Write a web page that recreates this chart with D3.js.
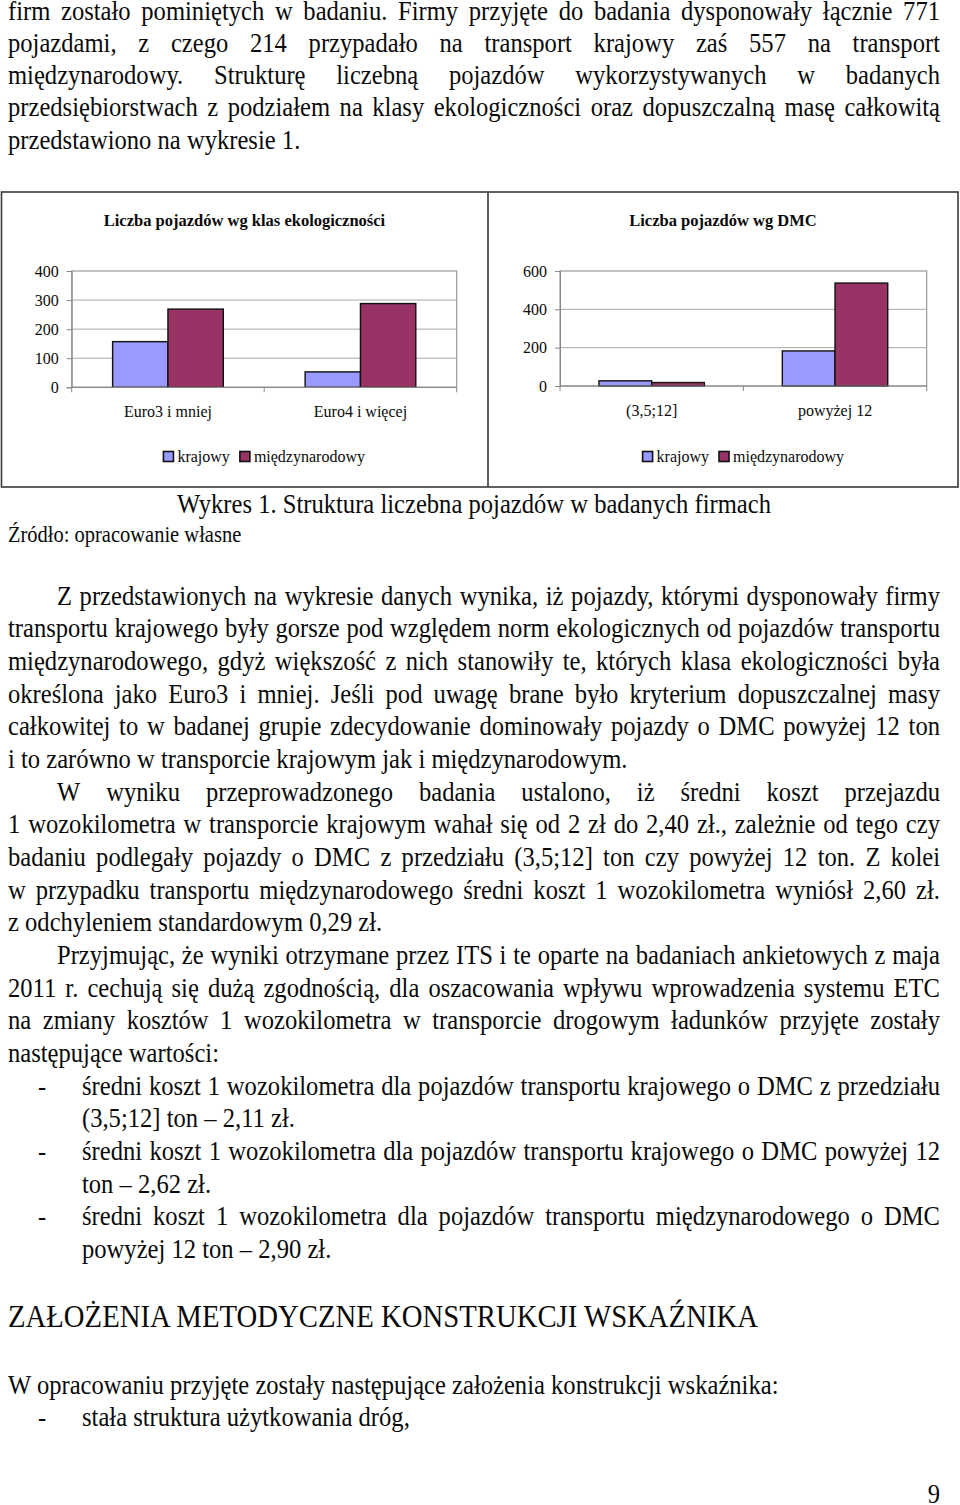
<!DOCTYPE html>
<html><head><meta charset="utf-8">
<script src="https://cdn.jsdelivr.net/npm/d3@7"></script>
<style>
html,body{margin:0;padding:0;background:#fff;}
svg{display:block;}
</style></head><body>
<svg id="page" width="960" height="1505"></svg>
<script>
// ---- chart data ----
const seriesNames = ["krajowy", "międzynarodowy"];
const seriesColors = ["#9999ff", "#993366"];
const ecoTitle = "Liczba pojazdów wg klas ekologiczności";
const ecoCategories = ["Euro3 i mniej", "Euro4 i więcej"];
const ecoKrajowy = [157, 53];
const ecoMiedzynarodowy = [269, 288];
const ecoTicks = [0, 100, 200, 300, 400];
const dmcTitle = "Liczba pojazdów wg DMC";
const dmcCategories = ["(3,5;12]", "powyżej 12"];
const dmcKrajowy = [27, 183];
const dmcMiedzynarodowy = [18, 537];
const dmcTicks = [0, 200, 400, 600];

// ---- page text ----
const para1 = [
  ["firm zostało pominiętych w badaniu. Firmy przyjęte do badania dysponowały łącznie 771", true],
  ["pojazdami, z czego 214 przypadało na transport krajowy zaś 557 na transport", true],
  ["międzynarodowy. Strukturę liczebną pojazdów wykorzystywanych w badanych", true],
  ["przedsiębiorstwach z podziałem na klasy ekologiczności oraz dopuszczalną masę całkowitą", true],
  ["przedstawiono na wykresie 1.", false]
];
const captionText = "Wykres 1. Struktura liczebna pojazdów w badanych firmach";
const sourceText = "Źródło: opracowanie własne";
// [text, justified, indent type]  indent: 0 none, 1 paragraph indent, 2 bullet, 3 bullet continuation
const para2 = [
  ["Z przedstawionych na wykresie danych wynika, iż pojazdy, którymi dysponowały firmy", true, 1],
  ["transportu krajowego były gorsze pod względem norm ekologicznych od pojazdów transportu", true, 0],
  ["międzynarodowego, gdyż większość z nich stanowiły te, których klasa ekologiczności była", true, 0],
  ["określona jako Euro3 i mniej. Jeśli pod uwagę brane było kryterium dopuszczalnej masy", true, 0],
  ["całkowitej to w badanej grupie zdecydowanie dominowały pojazdy o DMC powyżej 12 ton", true, 0],
  ["i to zarówno w transporcie krajowym jak i międzynarodowym.", false, 0],
  ["W wyniku przeprowadzonego badania ustalono, iż średni koszt przejazdu", true, 1],
  ["1 wozokilometra w transporcie krajowym wahał się od 2 zł do 2,40 zł., zależnie od tego czy", true, 0],
  ["badaniu podlegały pojazdy o DMC z przedziału (3,5;12] ton czy powyżej 12 ton. Z kolei", true, 0],
  ["w przypadku transportu międzynarodowego średni koszt 1 wozokilometra wyniósł 2,60 zł.", true, 0],
  ["z odchyleniem standardowym 0,29 zł.", false, 0],
  ["Przyjmując, że wyniki otrzymane przez ITS i te oparte na badaniach ankietowych z maja", true, 1],
  ["2011 r. cechują się dużą zgodnością, dla oszacowania wpływu wprowadzenia systemu ETC", true, 0],
  ["na zmiany kosztów 1 wozokilometra w transporcie drogowym ładunków przyjęte zostały", true, 0],
  ["następujące wartości:", false, 0],
  ["średni koszt 1 wozokilometra dla pojazdów transportu krajowego o DMC z przedziału", true, 2],
  ["(3,5;12] ton – 2,11 zł.", false, 3],
  ["średni koszt 1 wozokilometra dla pojazdów transportu krajowego o DMC powyżej 12", true, 2],
  ["ton – 2,62 zł.", false, 3],
  ["średni koszt 1 wozokilometra dla pojazdów transportu międzynarodowego o DMC", true, 2],
  ["powyżej 12 ton – 2,90 zł.", false, 3]
];
const headingText = "ZAŁOŻENIA METODYCZNE KONSTRUKCJI WSKAŹNIKA";
const para3 = [
  ["W opracowaniu przyjęte zostały następujące założenia konstrukcji wskaźnika:", false, 0],
  ["stała struktura użytkowania dróg,", false, 2]
];
const pageNumber = "9";

const svg = d3.select("#page");
const SERIF = "'Liberation Serif','Times New Roman',serif";
const INK = "#0a0a0a";
const BODY = 24.6;
const SY = 1.12; // vertical stretch of the scanned page text

function textLine(str, x0, x1, y, justify, size, anchor) {
  const g = svg.append("g").attr("font-family", SERIF).attr("font-size", size).attr("fill", INK)
    .attr("transform", `translate(0,${y}) scale(1,${SY})`);
  if (!justify) {
    g.append("text").attr("x", x0).attr("y", 0).attr("text-anchor", anchor || "start").text(str);
    return g;
  }
  const words = str.split(" ");
  const nodes = words.map(w => g.append("text").attr("y", 0).text(w));
  const widths = nodes.map(n => n.node().getComputedTextLength());
  const total = d3.sum(widths);
  const gap = (x1 - x0 - total) / Math.max(1, words.length - 1);
  let x = x0;
  nodes.forEach((n, i) => { n.attr("x", x); x += widths[i] + gap; });
  return g;
}

// paragraph 1
const L = 8, R = 940, IND = 57, BUL = 38, BTX = 82;
const p1Base = [20, 51.5, 83.8, 116.2, 148.8];
para1.forEach((d, i) => textLine(d[0], L, R, p1Base[i], d[1], BODY));

// caption & source
textLine(captionText, 474, 0, 512.5, false, BODY, "middle");
textLine(sourceText, 8, 0, 541.5, false, 20.5);

// paragraph 2
const pitch = 32.65, p2Start = 604.8;
function drawPara(lines, start) {
  lines.forEach((d, i) => {
    const y = start + i * pitch;
    let x0 = L;
    if (d[2] === 1) x0 = IND;
    if (d[2] === 2 || d[2] === 3) x0 = BTX;
    if (d[2] === 2) textLine("-", BUL, 0, y, false, BODY);
    textLine(d[0], x0, R, y, d[1], BODY);
  });
}
drawPara(para2, p2Start);

svg.append("g").attr("transform", `translate(0,1327) scale(1,${SY})`)
  .append("text").attr("x", 8).attr("y", 0).attr("font-family", SERIF)
  .attr("font-size", 27.5).attr("fill", INK)
  .attr("textLength", 750).attr("lengthAdjust", "spacingAndGlyphs").text(headingText);

drawPara(para3, 1393.8);

textLine(pageNumber, 940, 0, 1503, false, BODY, "end");

// ---- frame (two-cell table) ----
const frame = svg.append("g").attr("stroke", "#3a3a3a").attr("stroke-width", 1.6).attr("fill", "none");
frame.append("rect").attr("x", 1.5).attr("y", 192).attr("width", 956.5).attr("height", 295);
frame.append("line").attr("x1", 488).attr("x2", 488).attr("y1", 192).attr("y2", 487);

// ---- charts ----
function drawChart(o) {
  const g = svg.append("g").attr("font-family", SERIF).attr("fill", INK);
  const x = d3.scaleBand().domain(o.categories).range([o.left, o.right])
    .paddingInner(0.425).paddingOuter(0.2125);
  const xs = d3.scaleBand().domain(seriesNames).range([0, x.bandwidth()]);
  const y = d3.scaleLinear().domain([0, d3.max(o.ticks)]).range([o.bottom, o.top]);

  // gridlines
  g.append("g").selectAll("line").data(o.ticks.slice(1, -1)).join("line")
    .attr("x1", o.left).attr("x2", o.right)
    .attr("y1", d => y(d)).attr("y2", d => y(d))
    .attr("stroke", "#a8a8a8").attr("stroke-width", 1);
  // plot border
  g.append("rect").attr("x", o.left).attr("y", o.top)
    .attr("width", o.right - o.left).attr("height", o.bottom - o.top)
    .attr("fill", "none").attr("stroke", "#9a9a9a").attr("stroke-width", 1.2);

  // bars
  const rows = o.categories.map((c, i) => ({ c, vals: [o.series[0][i], o.series[1][i]] }));
  g.append("g").selectAll("g").data(rows).join("g")
    .attr("transform", d => `translate(${x(d.c)},0)`)
    .selectAll("rect").data(d => d.vals.map((v, k) => ({ v, k }))).join("rect")
    .attr("x", d => xs(seriesNames[d.k]))
    .attr("width", xs.bandwidth())
    .attr("y", d => y(d.v))
    .attr("height", d => o.bottom - y(d.v))
    .attr("fill", d => seriesColors[d.k])
    .attr("stroke", "#111").attr("stroke-width", 1.4);

  // y axis
  const ya = g.append("g").attr("transform", `translate(${o.left},0)`)
    .call(d3.axisLeft(y).tickValues(o.ticks).tickSize(5).tickPadding(8).tickFormat(d3.format("d")));
  ya.select(".domain").attr("stroke", "#888");
  ya.selectAll(".tick line").attr("stroke", "#888");
  ya.selectAll("text").attr("font-family", SERIF).attr("font-size", 16).attr("fill", INK);

  // x axis: ticks at category boundaries
  const step = x.step();
  const bounds = d3.range(o.categories.length + 1).map(i => o.left + i * step);
  const xa = g.append("g");
  xa.append("line").attr("x1", o.left).attr("x2", o.right).attr("y1", o.bottom).attr("y2", o.bottom)
    .attr("stroke", "#888").attr("stroke-width", 1.2);
  xa.selectAll("line.tk").data(bounds).join("line").attr("class", "tk")
    .attr("x1", d => d).attr("x2", d => d).attr("y1", o.bottom).attr("y2", o.bottom + 5)
    .attr("stroke", "#888");
  xa.selectAll("text").data(o.categories).join("text")
    .attr("x", d => x(d) + x.bandwidth() / 2).attr("y", o.bottom + 30)
    .attr("text-anchor", "middle").attr("font-size", 16).text(d => d);

  // title
  g.append("text").attr("x", o.titleX).attr("y", 226).attr("text-anchor", "middle")
    .attr("font-size", 16.5).attr("font-weight", "bold").text(o.title);

  // legend
  const lg = g.append("g");
  const items = seriesNames.map((n, k) => {
    const it = lg.append("g");
    it.append("rect").attr("x", 0).attr("y", -10.5).attr("width", 10).attr("height", 10)
      .attr("fill", seriesColors[k]).attr("stroke", "#111").attr("stroke-width", 1.6);
    const t = it.append("text").attr("x", 14).attr("y", 0).attr("font-size", 16).text(n);
    return { it, w: 14 + t.node().getComputedTextLength() };
  });
  const gapL = 10;
  const totalW = d3.sum(items, d => d.w) + gapL * (items.length - 1);
  let lx = (o.left + o.right) / 2 - totalW / 2;
  items.forEach(d => { d.it.attr("transform", `translate(${lx},462)`); lx += d.w + gapL; });
}

drawChart({
  left: 71.7, right: 456.7, top: 271, bottom: 387.3,
  ticks: ecoTicks, categories: ecoCategories,
  series: [ecoKrajowy, ecoMiedzynarodowy],
  title: ecoTitle, titleX: 244.5
});
drawChart({
  left: 560, right: 926.7, top: 271, bottom: 386,
  ticks: dmcTicks, categories: dmcCategories,
  series: [dmcKrajowy, dmcMiedzynarodowy],
  title: dmcTitle, titleX: 723
});
</script>
</body></html>
